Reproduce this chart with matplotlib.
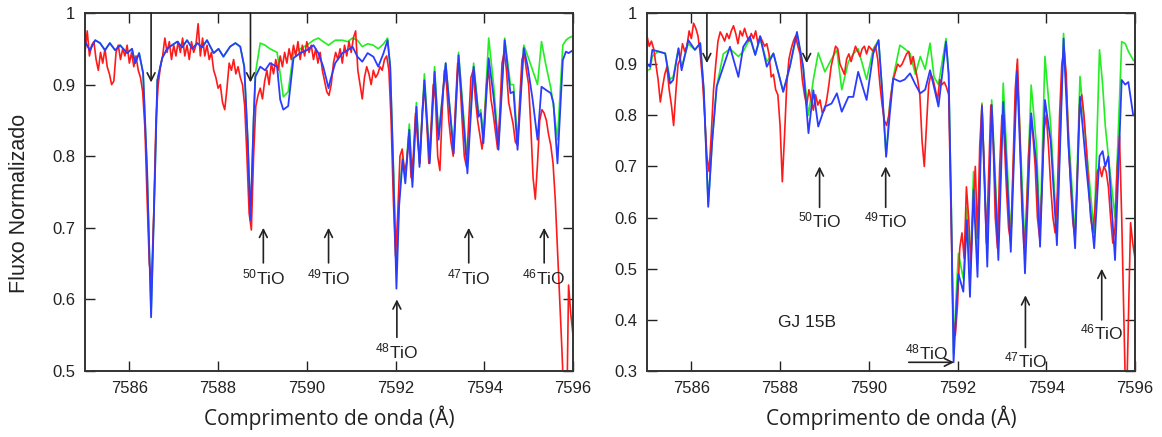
import numpy as np
import matplotlib
matplotlib.use("Agg")
import matplotlib.pyplot as plt

plt.rcParams["font.family"] = ["Liberation Sans", "DejaVu Sans"]
plt.rcParams["mathtext.fontset"] = "custom"
plt.rcParams["mathtext.rm"] = "Liberation Sans"
plt.rcParams["mathtext.it"] = "Liberation Sans:italic"
plt.rcParams["mathtext.bf"] = "Liberation Sans:bold"

# ---------------- left panel (top row data) ----------------
left_wl = [7585.00, 7585.11, 7585.23, 7585.34, 7585.45, 7585.56, 7585.68, 7585.79, 7585.95,
           7586.06, 7586.13, 7586.22, 7586.31, 7586.40, 7586.49, 7586.58, 7586.63, 7586.74,
           7586.85, 7586.96, 7587.08, 7587.19, 7587.30, 7587.42, 7587.53, 7587.64, 7587.75,
           7587.90, 7588.01, 7588.12, 7588.27, 7588.39, 7588.50, 7588.59, 7588.67, 7588.73,
           7588.80, 7588.84, 7588.95, 7589.06, 7589.17, 7589.33, 7589.40, 7589.47, 7589.58,
           7589.70, 7589.85, 7590.00, 7590.15, 7590.26, 7590.37, 7590.49, 7590.53, 7590.64,
           7590.80, 7590.92, 7591.03, 7591.14, 7591.25, 7591.37, 7591.50, 7591.61, 7591.73,
           7591.82, 7591.88, 7591.95, 7592.02, 7592.08, 7592.16, 7592.22, 7592.31, 7592.38,
           7592.47, 7592.54, 7592.65, 7592.77, 7592.88, 7592.97, 7593.13, 7593.31, 7593.42,
           7593.62, 7593.76, 7593.87, 7593.92, 7593.98, 7594.10, 7594.21, 7594.32, 7594.46,
           7594.59, 7594.66, 7594.75, 7594.89, 7594.98, 7595.09, 7595.20, 7595.29, 7595.38,
           7595.50, 7595.56, 7595.65, 7595.77, 7595.84, 7595.90, 7596.00]
left_blue = [0.960, 0.948, 0.962, 0.958, 0.948, 0.958, 0.948, 0.955, 0.944,
             0.950, 0.930, 0.944, 0.916, 0.780, 0.575, 0.780, 0.906, 0.937,
             0.950, 0.955, 0.960, 0.952, 0.962, 0.950, 0.958, 0.952, 0.962,
             0.944, 0.950, 0.939, 0.953, 0.958, 0.953, 0.925, 0.820, 0.711,
             0.850, 0.911, 0.925, 0.920, 0.930, 0.925, 0.879, 0.865, 0.870,
             0.937, 0.944, 0.948, 0.955, 0.944, 0.925, 0.895, 0.906, 0.930,
             0.944, 0.948, 0.953, 0.939, 0.932, 0.944, 0.939, 0.925, 0.944,
             0.962, 0.925, 0.780, 0.615, 0.730, 0.795, 0.762, 0.837, 0.757,
             0.869, 0.785, 0.906, 0.790, 0.918, 0.823, 0.930, 0.804, 0.941,
             0.776, 0.925, 0.855, 0.860, 0.818, 0.937, 0.883, 0.809, 0.962,
             0.888, 0.890, 0.809, 0.951, 0.925, 0.879, 0.823, 0.897, 0.893,
             0.888, 0.874, 0.790, 0.934, 0.946, 0.944, 0.948]
left_green = [0.960, 0.948, 0.962, 0.958, 0.948, 0.958, 0.948, 0.955, 0.944,
              0.950, 0.930, 0.944, 0.916, 0.780, 0.580, 0.780, 0.906, 0.937,
              0.950, 0.955, 0.960, 0.952, 0.962, 0.950, 0.958, 0.952, 0.962,
              0.944, 0.950, 0.939, 0.953, 0.958, 0.953, 0.925, 0.820, 0.711,
              0.850, 0.915, 0.958, 0.955, 0.950, 0.945, 0.915, 0.883, 0.890,
              0.945, 0.950, 0.955, 0.962, 0.965, 0.960, 0.955, 0.957, 0.962,
              0.962, 0.960, 0.965, 0.962, 0.953, 0.957, 0.955, 0.950, 0.957,
              0.965, 0.925, 0.790, 0.640, 0.740, 0.800, 0.770, 0.845, 0.765,
              0.875, 0.790, 0.915, 0.795, 0.925, 0.830, 0.930, 0.810, 0.945,
              0.790, 0.930, 0.860, 0.865, 0.830, 0.965, 0.900, 0.815, 0.965,
              0.900, 0.900, 0.820, 0.955, 0.940, 0.920, 0.900, 0.960, 0.930,
              0.895, 0.870, 0.823, 0.955, 0.962, 0.965, 0.968]
# red observed spectrum, sampled every 0.05 A from 7585.00 (one row per angstrom)
left_red = [
    0.945, 0.975, 0.940, 0.955, 0.960, 0.935, 0.920, 0.945, 0.930, 0.950,
    0.925, 0.915, 0.900, 0.905, 0.945, 0.955, 0.935, 0.950, 0.940, 0.955,
    0.930, 0.945, 0.925, 0.940, 0.920, 0.910, 0.890, 0.840, 0.740, 0.650,
    0.625, 0.720, 0.850, 0.900, 0.925, 0.940, 0.965, 0.945, 0.960, 0.935,
    0.955, 0.940, 0.960, 0.945, 0.965, 0.940, 0.955, 0.935, 0.960, 0.945,
    0.955, 0.985, 0.940, 0.965, 0.940, 0.955, 0.935, 0.945, 0.920, 0.910,
    0.895, 0.900, 0.875, 0.865, 0.895, 0.930, 0.920, 0.935, 0.915, 0.925,
    0.910, 0.900, 0.870, 0.800, 0.720, 0.697, 0.800, 0.870, 0.885, 0.895,
    0.880, 0.905, 0.920, 0.900, 0.930, 0.915, 0.935, 0.920, 0.940, 0.925,
    0.945, 0.930, 0.950, 0.935, 0.955, 0.940, 0.960, 0.935, 0.955, 0.940,
    0.960, 0.945, 0.955, 0.935, 0.950, 0.930, 0.945, 0.920, 0.905, 0.890,
    0.885, 0.900, 0.930, 0.945, 0.935, 0.950, 0.930, 0.955, 0.940, 0.960,
    0.945, 0.965, 0.975, 0.920, 0.900, 0.880, 0.910, 0.925, 0.915, 0.900,
    0.920, 0.910, 0.915, 0.925, 0.920, 0.935, 0.940, 0.920, 0.850, 0.740,
    0.660, 0.720, 0.800, 0.810, 0.780, 0.790, 0.830, 0.770, 0.800, 0.860,
    0.820, 0.790, 0.860, 0.900, 0.850, 0.790, 0.840, 0.900, 0.880, 0.800,
    0.780, 0.860, 0.920, 0.900, 0.850, 0.820, 0.800, 0.870, 0.930, 0.910,
    0.850, 0.800, 0.785, 0.850, 0.910, 0.920, 0.880, 0.850, 0.830, 0.810,
    0.840, 0.900, 0.920, 0.880, 0.860, 0.835, 0.810, 0.860, 0.930, 0.945,
    0.920, 0.875, 0.860, 0.845, 0.820, 0.815, 0.880, 0.935, 0.945, 0.920,
    0.900, 0.840, 0.770, 0.740, 0.790, 0.850, 0.865, 0.860, 0.850, 0.830,
    0.815, 0.790, 0.740, 0.670, 0.600, 0.530, 0.450, 0.400, 0.620, 0.580,
    0.550]

# ---------------- right panel (GJ 15B) ----------------
right_wl = [7585.00, 7585.07, 7585.12, 7585.25, 7585.41, 7585.52, 7585.59, 7585.71, 7585.78,
            7585.93, 7586.08, 7586.20, 7586.28, 7586.38, 7586.47, 7586.57, 7586.72, 7586.87,
            7587.06, 7587.17, 7587.32, 7587.44, 7587.55, 7587.70, 7587.85, 7588.07, 7588.22,
            7588.38, 7588.52, 7588.64, 7588.75, 7588.86, 7589.01, 7589.16, 7589.28, 7589.39,
            7589.54, 7589.65, 7589.76, 7589.95, 7590.10, 7590.22, 7590.30, 7590.39, 7590.47,
            7590.55, 7590.70, 7590.81, 7590.93, 7591.05, 7591.16, 7591.27, 7591.38, 7591.47,
            7591.57, 7591.74, 7591.80, 7591.86, 7591.91, 7591.97, 7592.02, 7592.13, 7592.21,
            7592.28, 7592.36, 7592.45, 7592.55, 7592.67, 7592.77, 7592.92, 7593.03, 7593.20,
            7593.34, 7593.52, 7593.66, 7593.78, 7593.86, 7593.97, 7594.10, 7594.24, 7594.39,
            7594.50, 7594.65, 7594.76, 7594.90, 7595.08, 7595.20, 7595.27, 7595.33, 7595.40,
            7595.55, 7595.70, 7595.78, 7595.85, 7595.96, 7596.00]
right_blue = [0.900, 0.895, 0.928, 0.925, 0.921, 0.862, 0.869, 0.931, 0.888,
              0.947, 0.928, 0.941, 0.850, 0.621, 0.750, 0.856, 0.895, 0.934,
              0.875, 0.934, 0.954, 0.918, 0.954, 0.895, 0.921, 0.846, 0.895,
              0.963, 0.895, 0.765, 0.849, 0.778, 0.817, 0.823, 0.843, 0.807,
              0.836, 0.836, 0.885, 0.830, 0.921, 0.947, 0.850, 0.719, 0.800,
              0.872, 0.866, 0.870, 0.882, 0.860, 0.843, 0.850, 0.888, 0.855,
              0.817, 0.944, 0.880, 0.600, 0.317, 0.420, 0.490, 0.455, 0.595,
              0.445, 0.654, 0.484, 0.817, 0.504, 0.820, 0.517, 0.826, 0.533,
              0.886, 0.491, 0.804, 0.700, 0.543, 0.830, 0.750, 0.546, 0.950,
              0.740, 0.540, 0.836, 0.700, 0.540, 0.720, 0.730, 0.700, 0.720,
              0.517, 0.869, 0.860, 0.865, 0.800, 0.800]
right_green = [0.888, 0.890, 0.915, 0.925, 0.921, 0.870, 0.875, 0.931, 0.895,
               0.940, 0.928, 0.941, 0.850, 0.625, 0.750, 0.856, 0.920, 0.930,
               0.915, 0.925, 0.950, 0.918, 0.950, 0.905, 0.921, 0.846, 0.895,
               0.960, 0.895, 0.800, 0.870, 0.922, 0.885, 0.910, 0.928, 0.850,
               0.905, 0.920, 0.930, 0.870, 0.930, 0.947, 0.850, 0.719, 0.820,
               0.874, 0.937, 0.930, 0.921, 0.880, 0.915, 0.890, 0.941, 0.875,
               0.860, 0.950, 0.880, 0.620, 0.335, 0.450, 0.530, 0.480, 0.620,
               0.470, 0.690, 0.510, 0.824, 0.530, 0.830, 0.550, 0.863, 0.560,
               0.900, 0.540, 0.859, 0.740, 0.570, 0.915, 0.780, 0.570, 0.960,
               0.770, 0.560, 0.876, 0.740, 0.570, 0.928, 0.860, 0.780, 0.720,
               0.600, 0.944, 0.940, 0.925, 0.908, 0.905]
right_red = [
    0.955, 0.935, 0.945, 0.930, 0.900, 0.870, 0.826, 0.855, 0.880, 0.895,
    0.850, 0.820, 0.780, 0.845, 0.900, 0.910, 0.940, 0.925, 0.935, 0.965,
    0.950, 0.980, 0.970, 0.955, 0.920, 0.870, 0.800, 0.720, 0.690, 0.765,
    0.850, 0.900, 0.945, 0.963, 0.955, 0.945, 0.960, 0.950, 0.965, 0.975,
    0.960, 0.940, 0.965, 0.955, 0.970, 0.955, 0.945, 0.960, 0.950, 0.965,
    0.940, 0.955, 0.945, 0.935, 0.940, 0.920, 0.875, 0.880, 0.850, 0.840,
    0.780, 0.670, 0.760, 0.860, 0.910, 0.930, 0.945, 0.955, 0.935, 0.920,
    0.870, 0.840, 0.820, 0.850, 0.830, 0.810, 0.840, 0.820, 0.830, 0.805,
    0.810, 0.830, 0.860, 0.895, 0.915, 0.935, 0.930, 0.900, 0.890, 0.880,
    0.910, 0.920, 0.905, 0.920, 0.935, 0.925, 0.915, 0.930, 0.935, 0.920,
    0.935, 0.930, 0.925, 0.935, 0.910, 0.860, 0.820, 0.790, 0.780, 0.800,
    0.840, 0.870, 0.885, 0.900, 0.895, 0.900, 0.910, 0.920, 0.925, 0.900,
    0.915, 0.890, 0.870, 0.840, 0.750, 0.700, 0.780, 0.860, 0.880, 0.870,
    0.850, 0.830, 0.870, 0.860, 0.865, 0.855, 0.840, 0.620, 0.400, 0.370,
    0.430, 0.540, 0.570, 0.520, 0.660, 0.600, 0.510, 0.620, 0.700, 0.560,
    0.740, 0.820, 0.700, 0.550, 0.680, 0.820, 0.760, 0.600, 0.540, 0.700,
    0.800, 0.760, 0.660, 0.580, 0.550, 0.700, 0.850, 0.910, 0.780, 0.620,
    0.540, 0.600, 0.720, 0.790, 0.760, 0.700, 0.600, 0.560, 0.650, 0.770,
    0.800, 0.740, 0.660, 0.600, 0.570, 0.650, 0.800, 0.900, 0.930, 0.880,
    0.750, 0.660, 0.590, 0.560, 0.680, 0.820, 0.840, 0.800, 0.740, 0.670,
    0.600, 0.570, 0.620, 0.690, 0.700, 0.680, 0.700, 0.690, 0.660, 0.600,
    0.550, 0.580, 0.700, 0.760, 0.600, 0.400, 0.200, 0.400, 0.590, 0.550,
    0.520]

xticks = [7586, 7588, 7590, 7592, 7594, 7596]
left_yticks = [0.5, 0.6, 0.7, 0.8, 0.9, 1.0]
left_ylabels = ["0.5", "0.6", "0.7", "0.8", "0.9", "1"]
right_yticks = [0.3, 0.4, 0.5, 0.6, 0.7, 0.8, 0.9, 1.0]
right_ylabels = ["0.3", "0.4", "0.5", "0.6", "0.7", "0.8", "0.9", "1"]

# isotope markers: (label, x, arrow tip, arrow tail)
left_down = [7586.49, 7588.73]
left_up = [("50", 7589.02, 0.700, 0.651), ("49", 7590.49, 0.700, 0.651),
           ("48", 7592.03, 0.600, 0.547), ("47", 7593.65, 0.700, 0.651),
           ("46", 7595.35, 0.700, 0.651)]
right_down = [7586.35, 7588.60]
right_up = [("50", 7588.89, 0.700, 0.620), ("49", 7590.38, 0.700, 0.620),
            ("47", 7593.53, 0.448, 0.346), ("46", 7595.25, 0.500, 0.400)]

RED = "#ff1a1a"
GREEN = "#22ee22"
BLUE = "#2b3cff"
INK = "#222222"

grid = 7585.0 + 0.05 * np.arange(len(left_red))

fig = plt.figure(figsize=(11.62, 4.37), dpi=100)
ax1 = fig.add_axes([85 / 1162, 66 / 437, 488 / 1162, 358 / 437])
ax2 = fig.add_axes([647 / 1162, 66 / 437, 488 / 1162, 358 / 437])


def style(ax, yt, yl, ylim):
    ax.set_xlim(7585, 7596)
    ax.set_ylim(*ylim)
    ax.set_xticks(xticks)
    ax.set_xticklabels([str(t) for t in xticks])
    ax.set_yticks(yt)
    ax.set_yticklabels(yl)
    ax.tick_params(direction="in", length=7, width=1.0, top=True, right=True,
                   labelsize=12, colors=INK, pad=7)
    for s in ax.spines.values():
        s.set_linewidth(1.4)
        s.set_color("#333333")
    ax.set_xlabel("Comprimento de onda (Å)", family="Open Sans", fontsize=15,
                  color=INK, labelpad=7)


def iso(ax, lab, x, tip, tail, gap=0.006):
    ax.annotate("", xy=(x, tip), xytext=(x, tail),
                arrowprops=dict(arrowstyle="->", color=INK, lw=1.2,
                                mutation_scale=14, shrinkA=0, shrinkB=0))
    ax.text(x, tail - gap, r"$^{%s}$TiO" % lab, ha="center", va="top",
            fontsize=12.5, color=INK)


for ax, wl, g, r, b in [(ax1, left_wl, left_green, left_red, left_blue),
                        (ax2, right_wl, right_green, right_red, right_blue)]:
    ax.plot(wl, g, color=GREEN, lw=1.2)
    ax.plot(grid, r, color=RED, lw=1.2)
    ax.plot(wl, b, color=BLUE, lw=1.3)

style(ax1, left_yticks, left_ylabels, (0.5, 1.0))
style(ax2, right_yticks, right_ylabels, (0.3, 1.0))

for x in left_down:
    ax1.annotate("", xy=(x, 0.903), xytext=(x, 1.0),
                 arrowprops=dict(arrowstyle="->", color=INK, lw=1.2,
                                 mutation_scale=14, shrinkA=0, shrinkB=0))
for x in right_down:
    ax2.annotate("", xy=(x, 0.902), xytext=(x, 1.0),
                 arrowprops=dict(arrowstyle="->", color=INK, lw=1.2,
                                 mutation_scale=14, shrinkA=0, shrinkB=0))

for lab, x, tip, tail in left_up:
    iso(ax1, lab, x, tip, tail)
for lab, x, tip, tail in right_up:
    iso(ax2, lab, x, tip, tail)

# 48TiO on the right panel points sideways
ax2.annotate("", xy=(7591.92, 0.317), xytext=(7590.9, 0.317),
             arrowprops=dict(arrowstyle="->", color=INK, lw=1.2,
                             mutation_scale=14, shrinkA=0, shrinkB=0))
ax2.text(7591.3, 0.337, r"$^{48}$TiO", ha="center", va="center",
         fontsize=12.5, color=INK)
ax2.text(7588.6, 0.395, "GJ 15B", ha="center", va="center", fontsize=12.5,
         color=INK)

fig.text(20 / 1162, 1 - 203 / 437, "Fluxo Normalizado", rotation=90,
         ha="center", va="center", fontsize=15.5, color=INK)

fig.savefig("out.png", dpi=100)
